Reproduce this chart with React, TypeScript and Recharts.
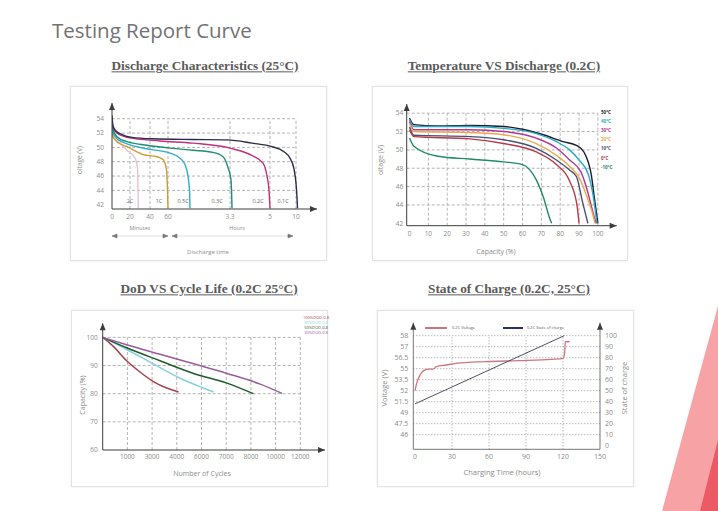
import React from 'react'
import { LineChart, Line, XAxis, YAxis, ReferenceLine, ReferenceDot } from 'recharts'

// ---------- Discharge Characteristics (25°C) ----------
const dischargeTickPos = [0, 18, 38, 56, 118, 158, 184]
const dischargeTickLabels = ['0', '20', '40', '60', '3.3', '5', '10']
const dischargeVoltTicks = [42, 44, 46, 48, 50, 52, 54]
const rateNames = ['2C', '1C', '0.5C', '0.3C', '0.2C', '0.1C']
const rateLabelAt = [18, 47, 71, 105, 146, 171]
const rate2C = [[0, 52.5], [1, 51.5], [8, 50.6], [15, 49.6], [23, 48.5], [25.5, 47.2], [26, 44], [26.3, 41.5]]
const rate1C = [[0, 53], [1, 51.5], [5, 50.8], [15, 50.1], [31, 49], [45, 48.7], [51, 48.3], [54.5, 46.9], [55.5, 44], [56, 41.5]]
const rate05C = [[0, 53.5], [1, 52], [5, 51.2], [15, 50.5], [31, 49.9], [58, 49.2], [68, 48.5], [73, 47.6], [76, 46], [77.5, 44], [78, 41.5]]
const rate03C = [[0, 53.8], [1, 52.5], [5, 51.5], [15, 50.8], [35, 50.3], [58, 49.9], [81, 49.6], [101, 49.3], [111, 48.7], [116, 47.2], [119, 45.5], [120, 41.5]]
const rate02C = [[0, 54], [1, 52.8], [5, 52], [15, 51.4], [48, 50.9], [81, 50.6], [118, 49.9], [141, 48.8], [151, 47.8], [155, 46], [157, 44], [158, 41.5]]
const rate01C = [[0, 54.5], [1, 53], [4, 52.3], [10, 51.8], [20, 51.4], [40, 51.2], [80, 51.1], [115, 51.05], [140, 50.6], [160, 50.1], [172, 49.4], [178, 48.5], [182, 47], [184, 45], [185, 43], [185.5, 41.5]]

// ---------- Temperature VS Discharge (0.2C) ----------
const capacityTicks = [0, 10, 20, 30, 40, 50, 60, 70, 80, 90, 100]
const tempVoltTicks = [42, 44, 46, 48, 50, 52, 54]
const tempNames = ['50°C', '40°C', '30°C', '20°C', '10°C', '0°C', '-10°C']
const temp50 = [[0, 53.45], [2.3, 52.75], [15, 52.6], [32, 52.65], [50, 52.55], [60, 52.25], [71, 51.65], [81.5, 50.9], [88.6, 50.5], [92.5, 49.8], [95, 48.6], [96.5, 47.3], [98, 45], [100, 42]]
const temp40 = [[0, 53.3], [2.3, 52.55], [32, 52.55], [50, 52.35], [67, 51.8], [78, 50.9], [85, 50], [90, 48.9], [95, 47.3], [97.5, 45], [99.5, 42]]
const temp30 = [[0, 53.1], [2.3, 52.2], [32, 52.2], [50, 52], [67, 51.3], [78, 50.2], [85, 48.9], [91, 47.6], [94.5, 45.5], [97, 43.5], [99, 42]]
const temp20 = [[0, 52.9], [2.3, 52], [32, 51.9], [50, 51.65], [67, 50.7], [78, 49.4], [85, 48.2], [90, 47], [94, 45], [97, 43.2], [98.5, 42]]
const temp10 = [[0, 52.5], [2.3, 51.6], [32, 51.45], [50, 51.1], [67, 50.2], [78, 48.9], [85, 47.8], [88.6, 47.1], [92, 44.2], [94.7, 42]]
const temp0 = [[0, 52.2], [2.3, 51.45], [32, 51.2], [50, 50.7], [67, 49.8], [78, 48.4], [85, 46.6], [88.9, 44], [90, 42]]
const tempMinus10 = [[0, 51.3], [2.3, 50.4], [15, 49.3], [32, 49], [50, 48.7], [60, 48.4], [64, 47.8], [67.4, 46.7], [71, 44.9], [74.5, 42.5], [75.5, 42]]

// ---------- DoD VS Cycle Life (0.2C 25°C) ----------
const cycleTickLabels = [0, 1000, 3000, 4000, 6000, 7000, 8000, 10000, 12000]
const cycleCapTicks = [60, 70, 80, 90, 100]
const dodNames = ['100%DOD-0.8', '80%DOD-0.8', '50%DOD-0.8', '30%DOD-0.8']
const dod100 = [[0, 100], [430, 96.8], [970, 91.7], [2020, 87.7], [3050, 84.3], [3590, 82], [4140, 80.6]]
const dod80 = [[0, 100], [970, 95.7], [3050, 90.6], [4280, 85.5], [6080, 82], [6490, 80.6]]
const dod50 = [[0, 100], [970, 96.3], [3320, 91.7], [5360, 87.2], [7030, 83.75], [8200, 80]]
const dod30 = [[0, 100], [970, 97.4], [3320, 94], [5360, 90.6], [7030, 87.2], [8760, 83.4], [10520, 80.1]]

// ---------- State of Charge (0.2C, 25°C) ----------
const chargeHourTicks = [0, 30, 60, 90, 120, 150]
const socVoltLabels = [58, 57, 56.5, 55, 53.5, 52, 51.5, 49, 47.5, 46]
const socLevels = [100, 90, 80, 70, 60, 50, 40, 30, 20, 10, 0]
const chargeHours = [0, 1.3, 4, 6.7, 10.7, 14.7, 17.3, 25.3, 33.3, 57.3, 84, 110.7, 120, 121.3, 121.9, 125.3]
const chargeVolts = [52.0, 53.0, 54.1, 54.7, 54.95, 54.95, 55.27, 55.5, 55.72, 55.96, 56.1, 56.28, 56.41, 56.7, 57.45, 57.45]
const socHours = [0, 121]
const socPercent = [38, 100]

const FONT = '"Open Sans", "Liberation Sans", sans-serif'
const AXIS = '#3c3c3c'
const TICK = '#8c8c8c'
const GRID = '#b4b4b4'

const pts = (pairs: number[][]) => pairs.map(([t, v]) => ({ t, v }))

// left-axis labels of the SOC chart sit on the same grid rows as the percent scale
function voltToLevel(v: number) {
  for (let i = 0; i < socVoltLabels.length - 1; i++) {
    const hi = socVoltLabels[i]
    const lo = socVoltLabels[i + 1]
    if (v <= hi && v >= lo) return socLevels[i + 1] + ((v - lo) / (hi - lo)) * (socLevels[i] - socLevels[i + 1])
  }
  return v > socVoltLabels[0] ? socLevels[0] : socLevels[socLevels.length - 2]
}

// cycle labels are equally spaced on the axis
function cycleToPos(c: number) {
  for (let i = 0; i < cycleTickLabels.length - 1; i++) {
    const a = cycleTickLabels[i]
    const b = cycleTickLabels[i + 1]
    if (c >= a && c <= b) return i + (c - a) / (b - a)
  }
  return cycleTickLabels.length - 1
}

const rateSeries = [
  { name: rateNames[0], data: rate2C, color: '#e6c3d5' },
  { name: rateNames[1], data: rate1C, color: '#d49a2c' },
  { name: rateNames[2], data: rate05C, color: '#2eaecb' },
  { name: rateNames[3], data: rate03C, color: '#1e8d72' },
  { name: rateNames[4], data: rate02C, color: '#c1307b' },
  { name: rateNames[5], data: rate01C, color: '#2a2b4e' },
]

const tempSeries = [
  { name: tempNames[0], data: temp50, color: '#1c1c2c' },
  { name: tempNames[1], data: temp40, color: '#2aa8c8' },
  { name: tempNames[2], data: temp30, color: '#b13699' },
  { name: tempNames[3], data: temp20, color: '#e9a94c' },
  { name: tempNames[4], data: temp10, color: '#4a4e70' },
  { name: tempNames[5], data: temp0, color: '#b63a4a' },
  { name: tempNames[6], data: tempMinus10, color: '#1f8a68' },
]

const dodSeries = [
  { name: dodNames[0], data: dod100, color: '#a4434b' },
  { name: dodNames[1], data: dod80, color: '#86d2dc' },
  { name: dodNames[2], data: dod50, color: '#1f5d2a' },
  { name: dodNames[3], data: dod30, color: '#9a5b9c' },
]

const chargeData = chargeHours.map((t, i) => ({ t, v: voltToLevel(chargeVolts[i]) }))
const socData = socHours.map((t, i) => ({ t, v: socPercent[i] }))

const tickStyle = { fontSize: 6.5, fill: TICK, fontFamily: FONT }

const arrowRight = (p: any) => (
  <path d={`M${p.cx - 7},${p.cy - 3} L${p.cx},${p.cy} L${p.cx - 7},${p.cy + 3} Z`} fill={AXIS} />
)
const arrowUp = (p: any) => (
  <path d={`M${p.cx - 3},${p.cy + 7} L${p.cx},${p.cy} L${p.cx + 3},${p.cy + 7} Z`} fill={AXIS} />
)

function Txt({ x, y, children, size = 7, color = TICK, rotate = 0, anchor = 'center', weight = 400, family = FONT, underline = false }: any) {
  const tx = anchor === 'center' ? '-50%' : anchor === 'end' ? '-100%' : '0'
  return (
    <div
      style={{
        position: 'absolute',
        left: x,
        top: y,
        transform: `translate(${tx}, -50%) rotate(${rotate}deg)`,
        fontSize: size,
        color,
        whiteSpace: 'nowrap',
        fontFamily: family,
        fontWeight: weight,
        lineHeight: 1,
        textDecoration: underline ? 'underline' : 'none',
      }}
    >
      {children}
    </div>
  )
}

const Panel = ({ x, y, w, h }: any) => (
  <div
    style={{
      position: 'absolute',
      left: x,
      top: y,
      width: w,
      height: h,
      boxSizing: 'border-box',
      border: '1px solid #e3e3e3',
      background: '#fff',
      boxShadow: '0 0 2px rgba(0,0,0,0.08)',
    }}
  />
)

const Title = ({ x, y, children }: any) => (
  <Txt x={x} y={y} size={13.3} color="#5a5a5a" weight={700} family='"Liberation Serif", serif' underline>
    {children}
  </Txt>
)

function DischargeChart() {
  return (
    <div style={{ position: 'absolute', left: 70, top: 86 }}>
      <LineChart width={257} height={175} margin={{ top: 17, right: 10, bottom: 38, left: 20 }}>
        <XAxis type="number" dataKey="t" domain={[0, 205]} ticks={dischargeTickPos} interval={0} allowDataOverflow
          tickFormatter={(v: number) => dischargeTickLabels[dischargeTickPos.indexOf(v)]}
          tick={tickStyle} tickLine={false} tickSize={3} height={14} axisLine={{ stroke: AXIS }} />
        <YAxis type="number" domain={[41.4, 56.2]} ticks={dischargeVoltTicks} interval={0} allowDataOverflow
          tick={tickStyle} tickLine={false} tickSize={6} width={22} axisLine={{ stroke: AXIS }} />
        {dischargeVoltTicks.slice(1).map(v => (
          <ReferenceLine key={'h' + v} segment={[{ x: 0, y: v }, { x: 184, y: v }]} stroke={GRID} strokeDasharray="3 2" />
        ))}
        {dischargeTickPos.slice(1).map(t => (
          <ReferenceLine key={'v' + t} segment={[{ x: t, y: 41.4 }, { x: t, y: 54 }]} stroke={GRID} strokeDasharray="3 2" />
        ))}
        {rateSeries.map(s => (
          <Line key={s.name} data={pts(s.data)} dataKey="v" type="monotone" stroke={s.color} strokeWidth={1.4} dot={false} isAnimationActive={false} />
        ))}
        {rateSeries.map((s, i) => (
          <ReferenceDot key={'l' + s.name} x={rateLabelAt[i]} y={42.4} ifOverflow="visible"
            shape={(p: any) => <text x={p.cx} y={p.cy} textAnchor="middle" dominantBaseline="middle" fontSize={5.5} fill="#666" fontFamily={FONT}>{s.name}</text>} />
        ))}
        <ReferenceDot x={205} y={41.4} ifOverflow="visible" shape={arrowRight} />
        <ReferenceDot x={0} y={56.2} ifOverflow="visible" shape={arrowUp} />
      </LineChart>
    </div>
  )
}

function TemperatureChart() {
  return (
    <div style={{ position: 'absolute', left: 372, top: 86 }}>
      <LineChart width={256} height={175} margin={{ top: 18, right: 11.3, bottom: 21.3, left: 14.7 }}>
        <XAxis type="number" dataKey="t" domain={[-1.5, 110]} ticks={capacityTicks} interval={0} allowDataOverflow
          tick={tickStyle} tickLine={false} tickSize={4} height={14} axisLine={{ stroke: AXIS }} />
        <YAxis type="number" domain={[41.74, 55]} ticks={tempVoltTicks} interval={0} allowDataOverflow
          tick={tickStyle} tickLine={false} tickSize={1.5} width={20} axisLine={{ stroke: AXIS }} />
        {tempVoltTicks.slice(1).map(v => (
          <ReferenceLine key={'h' + v} segment={[{ x: -1.5, y: v }, { x: 100, y: v }]} stroke={GRID} strokeDasharray="3 2" />
        ))}
        {capacityTicks.slice(1).map(t => (
          <ReferenceLine key={'v' + t} segment={[{ x: t, y: 41.74 }, { x: t, y: 54 }]} stroke={GRID} strokeDasharray="3 2" />
        ))}
        {tempSeries.map(s => (
          <Line key={s.name} data={pts(s.data)} dataKey="v" type="monotone" stroke={s.color} strokeWidth={1.4} dot={false} isAnimationActive={false} />
        ))}
        <ReferenceDot x={110} y={41.74} ifOverflow="visible" shape={arrowRight} />
        <ReferenceDot x={-1.5} y={55} ifOverflow="visible" shape={arrowUp} />
      </LineChart>
    </div>
  )
}

function CycleChart() {
  const posTicks = cycleTickLabels.slice(1).map((_, i) => i + 1)
  return (
    <div style={{ position: 'absolute', left: 71, top: 310 }}>
      <LineChart width={257} height={177} margin={{ top: 13.3, right: 3, bottom: 23, left: 11.7 }}>
        <XAxis type="number" dataKey="t" domain={[0, 9]} ticks={posTicks} interval={0} allowDataOverflow
          tickFormatter={(v: number) => String(cycleTickLabels[v])}
          tick={tickStyle} tickLine={false} tickSize={2} height={14} axisLine={{ stroke: AXIS }} />
        <YAxis type="number" domain={[60, 105]} ticks={cycleCapTicks} interval={0} allowDataOverflow
          tick={tickStyle} tickLine={false} tickSize={3} width={20} axisLine={{ stroke: AXIS }} />
        {cycleCapTicks.slice(1).map(v => (
          <ReferenceLine key={'h' + v} segment={[{ x: 0, y: v }, { x: 8, y: v }]} stroke={GRID} strokeDasharray="3 2" />
        ))}
        {posTicks.map(t => (
          <ReferenceLine key={'v' + t} segment={[{ x: t, y: 60 }, { x: t, y: 100 }]} stroke={GRID} strokeDasharray="3 2" />
        ))}
        {dodSeries.map(s => (
          <Line key={s.name} data={s.data.map(([c, v]) => ({ t: cycleToPos(c), v }))} dataKey="v" type="monotone"
            stroke={s.color} strokeWidth={1.5} dot={false} isAnimationActive={false} />
        ))}
        <ReferenceDot x={9} y={60} ifOverflow="visible" shape={arrowRight} />
        <ReferenceDot x={0} y={105} ifOverflow="visible" shape={arrowUp} />
      </LineChart>
    </div>
  )
}

function SocChart() {
  const levelTicks = socLevels.slice(0, socVoltLabels.length)
  return (
    <div style={{ position: 'absolute', left: 377, top: 310 }}>
      <LineChart width={257} height={177} margin={{ top: 12.7, right: 14, bottom: 23.7, left: 16.3 }}>
        <XAxis type="number" dataKey="t" domain={[-1.4, 150]} ticks={chargeHourTicks} interval={0} allowDataOverflow
          tick={{ ...tickStyle, fontSize: 7 }} tickLine={false} tickSize={3} height={14} axisLine={{ stroke: '#777' }} />
        <YAxis yAxisId="l" type="number" domain={[-3.3, 111.8]} ticks={levelTicks} interval={0} allowDataOverflow
          tickFormatter={(v: number) => String(socVoltLabels[levelTicks.indexOf(v)])}
          tick={{ ...tickStyle, fontSize: 7 }} tickLine={false} tickSize={3} width={20} axisLine={{ stroke: '#777' }} />
        <YAxis yAxisId="r" orientation="right" type="number" domain={[-3.3, 111.8]} ticks={socLevels} interval={0} allowDataOverflow
          tick={{ ...tickStyle, fontSize: 7 }} tickLine={false} tickSize={3} width={20} axisLine={{ stroke: '#777' }} />
        {levelTicks.map(v => (
          <ReferenceLine key={'h' + v} yAxisId="l" segment={[{ x: -1.4, y: v }, { x: 150, y: v }]} stroke="#9a9a9a" strokeDasharray="1 2" />
        ))}
        {chargeHourTicks.slice(1, -1).map(t => (
          <ReferenceLine key={'v' + t} yAxisId="l" segment={[{ x: t, y: -3.3 }, { x: t, y: 100 }]} stroke="#9a9a9a" strokeDasharray="1 2" />
        ))}
        <Line yAxisId="l" data={chargeData} dataKey="v" type="monotone" stroke="#c9777c" strokeWidth={1.3} dot={false} isAnimationActive={false} />
        <Line yAxisId="r" data={socData} dataKey="v" type="linear" stroke="#3a3d55" strokeWidth={0.9} dot={false} isAnimationActive={false} />
        <ReferenceDot yAxisId="l" x={-1.4} y={111.8} ifOverflow="visible" shape={arrowUp} />
        <ReferenceDot yAxisId="l" x={150} y={111.8} ifOverflow="visible" shape={arrowUp} />
      </LineChart>
    </div>
  )
}

export default function App() {
  return (
    <div style={{ position: 'absolute', left: 0, top: 0, width: 718, height: 511, background: '#fff', overflow: 'hidden', fontFamily: FONT }}>
      <svg width={718} height={511} style={{ position: 'absolute', left: 0, top: 0 }}>
        <polygon points="662,511 718,306 718,511" fill="#f7a3a6" />
        <polygon points="700,511 718,440 718,511" fill="#ec5a66" />
      </svg>

      <Txt x={52} y={30} size={20.5} color="#727272" anchor="start">Testing Report Curve</Txt>

      <Title x={205} y={66}>Discharge Characteristics (25°C)</Title>
      <Title x={504} y={66}>Temperature VS Discharge (0.2C)</Title>
      <Title x={209} y={289}>DoD VS Cycle Life (0.2C 25°C)</Title>
      <Title x={509} y={289}>State of Charge (0.2C, 25°C)</Title>

      <Panel x={70} y={86} w={257} h={175} />
      <Panel x={372} y={86} w={256} h={175} />
      <Panel x={71} y={310} w={257} h={177} />
      <Panel x={377} y={310} w={257} h={177} />

      <DischargeChart />
      <TemperatureChart />
      <CycleChart />
      <SocChart />

      {/* discharge chart annotations */}
      <Txt x={80} y={160} size={6.5} rotate={-90}>oltage (V)</Txt>
      <Txt x={140} y={229} size={5.5}>Minutes</Txt>
      <Txt x={237} y={229} size={5.5}>Hours</Txt>
      <svg width={718} height={511} style={{ position: 'absolute', left: 0, top: 0, pointerEvents: 'none' }}>
        <g stroke="#777" strokeWidth={0.6} fill="#777">
          <line x1={112} y1={236} x2={168} y2={236} stroke="#cfcfcf" />
          <line x1={172} y1={236} x2={293} y2={236} stroke="#cfcfcf" />
          <path d="M112,236 l5,-2 l0,4 Z" />
          <path d="M168,236 l-5,-2 l0,4 Z" />
          <path d="M172,236 l5,-2 l0,4 Z" />
          <path d="M293,236 l-5,-2 l0,4 Z" />
        </g>
      </svg>
      <Txt x={208} y={252} size={6}>Discharge time</Txt>

      {/* temperature chart annotations */}
      <Txt x={380} y={160} size={7} rotate={-90}>oltage (V)</Txt>
      <Txt x={496} y={251} size={7}>Capacity (%)</Txt>
      {tempSeries.map((s, i) => (
        <Txt key={s.name} x={601} y={112 + i * 9.1} size={4.5} color={s.color} anchor="start" weight={700}>{s.name}</Txt>
      ))}

      {/* cycle chart annotations */}
      <Txt x={82} y={395} size={7} rotate={-90}>Capacity (%)</Txt>
      <Txt x={202} y={473} size={7}>Number of Cycles</Txt>
      {dodSeries.map((s, i) => (
        <Txt key={s.name} x={316} y={318 + i * 5} size={4} color={s.color}>{s.name}</Txt>
      ))}

      {/* state of charge annotations */}
      <Txt x={385} y={388} size={7.5} rotate={-90}>Voltage (V)</Txt>
      <Txt x={625} y={388} size={7.5} rotate={-90}>State of charge</Txt>
      <Txt x={502} y={473} size={7.5}>Charging Time (hours)</Txt>
      <div style={{ position: 'absolute', left: 425, top: 326.5, width: 22, height: 2.2, background: '#c9777c' }} />
      <Txt x={452} y={327.7} size={4} color="#555" anchor="start">0.2C Voltage</Txt>
      <div style={{ position: 'absolute', left: 503, top: 326.5, width: 20, height: 2.2, background: '#2e3160' }} />
      <Txt x={527} y={327.7} size={4} color="#555" anchor="start">0.2C State of charge</Txt>
    </div>
  )
}
